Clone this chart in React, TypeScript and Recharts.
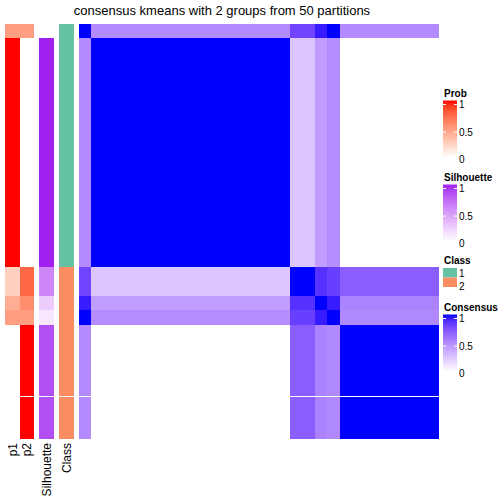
import React from 'react';
import { ComposedChart, XAxis, YAxis, ReferenceArea, ReferenceLine } from 'recharts';

// sample groups in the order they appear (rows top->bottom, columns left->right)
const groupSizes = [1, 16, 2, 1, 1, 8];

// group-by-group consensus values (symmetric)
const consensus = [
  [1, 0.5, 0.8, 0.95, 1, 0.5],
  [0.5, 1, 0.25, 0.42, 0.49, 0],
  [0.8, 0.25, 1, 0.88, 0.83, 0.7],
  [0.95, 0.42, 0.88, 1, 0.95, 0.54],
  [1, 0.49, 0.83, 0.95, 1, 0.51],
  [0.5, 0, 0.7, 0.54, 0.51, 1],
];

const probP1 = [0.5, 1, 0.25, 0.42, 0.5, 0];
const probP2 = [0.5, 0, 0.75, 0.58, 0.5, 1];
const silhouette = [0, 1, 0.6, 0.25, 0.12, 0.85];
const classes = [1, 1, 2, 2, 2, 2];

const classLevels = ['1', '2'];
const legendTicks = ['1', '0.5', '0'];
const annoLabels = ['p1', 'p2', 'Silhouette', 'Class'];
const title = 'consensus kmeans with 2 groups from 50 partitions';
const seamAt = 26; // thin white seam seen in the bottom block

// ---- colour helpers (LAB interpolation like colorRamp2) ----
function hexToRgb(hex: string) {
  const n = parseInt(hex.slice(1), 16);
  return [(n >> 16) & 255, (n >> 8) & 255, n & 255];
}
function toLinear(c: number) {
  c /= 255;
  return c <= 0.04045 ? c / 12.92 : Math.pow((c + 0.055) / 1.055, 2.4);
}
function fromLinear(c: number) {
  const v = c <= 0.0031308 ? 12.92 * c : 1.055 * Math.pow(c, 1 / 2.4) - 0.055;
  return Math.round(Math.min(1, Math.max(0, v)) * 255);
}
const WX = 0.95047, WY = 1, WZ = 1.08883;
function toLab(hex: string) {
  const [r, g, b] = hexToRgb(hex).map(toLinear);
  const x = 0.4124 * r + 0.3576 * g + 0.1805 * b;
  const y = 0.2126 * r + 0.7152 * g + 0.0722 * b;
  const z = 0.0193 * r + 0.1192 * g + 0.9505 * b;
  const f = (t: number) => (t > 0.008856 ? Math.cbrt(t) : 7.787 * t + 16 / 116);
  const fx = f(x / WX), fy = f(y / WY), fz = f(z / WZ);
  return [116 * fy - 16, 500 * (fx - fy), 200 * (fy - fz)];
}
function labToHex(L: number, a: number, b: number) {
  const fy = (L + 16) / 116;
  const fx = fy + a / 500;
  const fz = fy - b / 200;
  const inv = (t: number) => (t ** 3 > 0.008856 ? t ** 3 : (t - 16 / 116) / 7.787);
  const x = WX * inv(fx), y = WY * inv(fy), z = WZ * inv(fz);
  const r = 3.2406 * x - 1.5372 * y - 0.4986 * z;
  const g = -0.9689 * x + 1.8758 * y + 0.0415 * z;
  const bb = 0.0557 * x - 0.204 * y + 1.057 * z;
  return '#' + [r, g, bb].map((c) => fromLinear(c).toString(16).padStart(2, '0')).join('');
}
function ramp(lo: string, hi: string) {
  const a = toLab(lo), b = toLab(hi);
  return (t: number) => labToHex(a[0] + (b[0] - a[0]) * t, a[1] + (b[1] - a[1]) * t, a[2] + (b[2] - a[2]) * t);
}
const probColor = ramp('#FFFFFF', '#FF0000');
const silColor = ramp('#FFFFFF', '#A020F0');
const consColor = ramp('#FFFFFF', '#0000FF');
const classColors: Record<number, string> = { 1: '#66C2A5', 2: '#FC8D62' };

const nSamples = groupSizes.reduce((s, v) => s + v, 0);
const starts = groupSizes.map((_, i) => groupSizes.slice(0, i).reduce((s, v) => s + v, 0));

// ---- layout ----
const TOP = 24;
const BODY_H = 415;
const FONT = '"Liberation Sans", Arial, Helvetica, sans-serif';

type Cell = { x1: number; x2: number; y1: number; y2: number; fill: string };

function Strip({ left, width, cols, cells }: { left: number; width: number; cols: number; cells: Cell[] }) {
  return (
    <div style={{ position: 'absolute', left, top: TOP }}>
      <ComposedChart width={width} height={BODY_H} margin={{ top: 0, right: 0, bottom: 0, left: 0 }} data={[{ x: 0, y: 0 }]}>
        <XAxis type="number" dataKey="x" domain={[0, cols]} hide allowDataOverflow />
        <YAxis type="number" dataKey="y" domain={[0, nSamples]} reversed hide allowDataOverflow />
        {cells.map((c, i) => (
          <ReferenceArea
            key={i}
            x1={c.x1}
            x2={c.x2}
            y1={c.y1}
            y2={c.y2}
            fill={c.fill}
            fillOpacity={1}
            stroke="none"
            shapeRendering="crispEdges"
            ifOverflow="visible"
          />
        ))}
        <ReferenceLine y={seamAt} stroke="#ffffff" strokeWidth={1} shapeRendering="crispEdges" ifOverflow="visible" />
      </ComposedChart>
    </div>
  );
}

function annoCells(values: ((g: number) => string)[]): Cell[] {
  const out: Cell[] = [];
  values.forEach((fn, k) => {
    groupSizes.forEach((size, g) => {
      out.push({ x1: k, x2: k + 1, y1: starts[g], y2: starts[g] + size, fill: fn(g) });
    });
  });
  return out;
}

const matrixCells: Cell[] = [];
groupSizes.forEach((rs, i) => {
  groupSizes.forEach((cs, j) => {
    matrixCells.push({
      x1: starts[j],
      x2: starts[j] + cs,
      y1: starts[i],
      y2: starts[i] + rs,
      fill: consColor(consensus[i][j]),
    });
  });
});

const strips = [
  { left: 5, width: 29, cols: 2, cells: annoCells([(g) => probColor(probP1[g]), (g) => probColor(probP2[g])]) },
  { left: 39, width: 15, cols: 1, cells: annoCells([(g) => silColor(silhouette[g])]) },
  { left: 59, width: 15, cols: 1, cells: annoCells([(g) => classColors[classes[g]]]) },
];
const labelX = [12.5, 27, 46.5, 66.5];

function GradientLegend({ id, name, y, ramp: fn }: { id: string; name: string; y: number; ramp: (t: number) => string }) {
  const stops = Array.from({ length: 11 }, (_, i) => i / 10);
  const barTop = y + 4;
  const barH = 57;
  return (
    <g>
      <defs>
        <linearGradient id={id} x1="0" y1="0" x2="0" y2="1">
          {stops.map((s) => (
            <stop key={s} offset={s} stopColor={fn(1 - s)} />
          ))}
        </linearGradient>
      </defs>
      <text x={444} y={y} fontSize={10} fontWeight="bold">{name}</text>
      <rect x={443} y={barTop} width={14} height={barH} fill={`url(#${id})`} />
      {legendTicks.map((t, i) => {
        const ty = barTop + 4 + i * 27.6;
        return (
          <g key={t}>
            <line x1={443} x2={446} y1={ty} y2={ty} stroke="#fff" />
            <line x1={454} x2={457} y1={ty} y2={ty} stroke="#fff" />
            <text x={459} y={ty + 3.5} fontSize={10}>{t}</text>
          </g>
        );
      })}
    </g>
  );
}

export default function App() {
  return (
    <div style={{ position: 'absolute', left: 0, top: 0, width: 504, height: 504, background: '#fff', fontFamily: FONT }}>
      {strips.map((s, i) => (
        <Strip key={i} {...s} />
      ))}
      <Strip left={79} width={360} cols={nSamples} cells={matrixCells} />
      <svg width={504} height={504} style={{ position: 'absolute', left: 0, top: 0, pointerEvents: 'none' }} fontFamily={FONT}>
        <text x={222} y={14.5} fontSize={13} textAnchor="middle">{title}</text>
        {annoLabels.map((l, i) => (
          <text key={l} transform={`translate(${labelX[i]},443) rotate(-90)`} fontSize={12} textAnchor="end" dominantBaseline="central">
            {l}
          </text>
        ))}
        <GradientLegend id="gp" name="Prob" y={96.5} ramp={probColor} />
        <GradientLegend id="gs" name="Silhouette" y={180.5} ramp={silColor} />
        <text x={444} y={263.5} fontSize={10} fontWeight="bold">Class</text>
        {classLevels.map((c, i) => (
          <g key={c}>
            <rect x={443} y={268 + i * 9.5} width={14} height={9.5} fill={classColors[Number(c)]} />
            <text x={459} y={276.5 + i * 13.5} fontSize={10}>{c}</text>
          </g>
        ))}
        <GradientLegend id="gc" name="Consensus" y={310.5} ramp={consColor} />
      </svg>
    </div>
  );
}
